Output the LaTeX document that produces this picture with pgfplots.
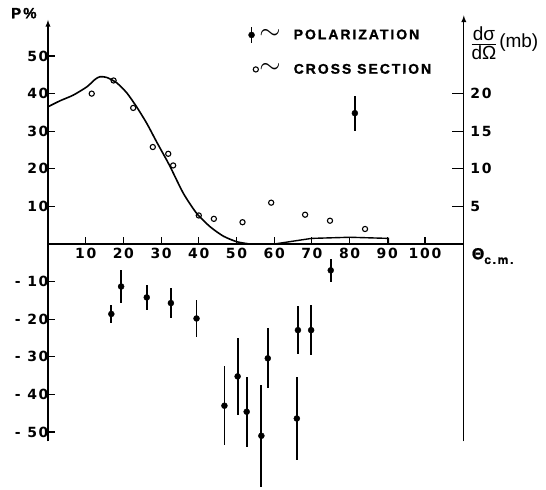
\documentclass[border=0pt]{standalone}
\usepackage{pgfplots}
\pgfplotsset{compat=1.18}
\usepackage{graphicx}
\usepackage{fontspec}
\setmainfont{Liberation Sans}[BoldFeatures={FakeBold=1.2}]
\newfontfamily\lett{DejaVu Sans}[LetterSpace=12]
\newfontfamily\legfont{Liberation Sans}[LetterSpace=14, BoldFeatures={FakeBold=1.2}]

% polarization (P %) with errors
\pgfplotstableread{
x     y      e
16.8  -18.6  2.5
19.4  -11.3  4.5
26.2  -14.2  3.3
32.6  -15.7  3.9
39.4  -19.8  5.0
46.8  -43.0  10.5
50.3  -35.2  10.2
52.7  -44.6  9.3
56.6  -51.0  13.5
58.3  -30.4  8.0
66.0  -46.4  11.0
66.3  -22.9  6.3
69.8  -22.9  6.7
75.0  -7.0   3.1
81.4  34.8   4.7
}\poltab

% cross section (mb)
\pgfplotstableread{
x     y
11.6  20.0
17.4  21.75
22.6  18.1
27.8  12.9
31.9  12.0
33.2  10.45
40.0  3.8
44.0  3.35
51.6  2.9
59.2  5.5
68.2  3.9
74.8  3.1
84.1  2.0
}\crosstab

% fitted curve (mb), smooth part
\pgfplotstableread{
x     y
0.0   18.25
3.2   19.05
6.7   19.8
10.3  20.9
12.5  21.9
13.8  22.25
15.6  22.15
18.2  21.45
20.9  20.1
23.5  18.25
26.2  16.05
28.8  13.6
31.5  11.15
32.4  10.3
35.9  6.75
39.4  4.1
43.0  2.3
46.5  1.05
50.1  0.3
53.5  0.0
}\curvetab

% fitted curve (mb), flat tail
\pgfplotstableread{
x     y
53.5  0.0
60.0  0.0
69.9  0.75
80.1  0.9
90.3  0.75
90.3  0.0
}\tailtab

\begin{document}
\begin{tikzpicture}
\begin{axis}[
    x=3.77pt, y=3.76pt,
    xmin=0, xmax=110.3, ymin=-52.5, ymax=59.6,
    axis lines=middle,
    clip=false,
    axis line style={line width=1.3pt},
    x axis line style={-},
    y axis line style={-latex},
    tick align=inside,
    major tick length=7pt,
    tick style={line width=1.1pt, black},
    xtick={10,20,...,100},
    ytick={-50,-40,-30,-20,-10,10,20,30,40,50},
    yticklabels={- 50,- 40,- 30,- 20,- 10,10,20,30,40,50},
    /pgf/number format/assume math mode=true,
    ticklabel style={font=\lett\bfseries\fontsize{14}{16}\selectfont},
    yticklabel style={xshift=4pt},
    xticklabel style={yshift=-1pt},
    legend style={at={(axis cs:52.3,58.5)}, anchor=north west, draw=none, fill=none,
        font=\legfont\bfseries\fontsize{14}{15}\selectfont, row sep=19pt,
        nodes={inner sep=1pt}},
    legend cell align=left,
]
\path (axis cs:-12.73,64.9) rectangle (axis cs:132.1,-64.6);

\addlegendimage{legend image code/.code={
    \draw[line width=1.4pt] (0.15cm,-8pt) -- (0.15cm,8pt);
    \fill (0.15cm,0pt) circle (3pt);}}
\addlegendentry{\scalebox{1.9}{$\sim$}\hspace{13pt}POLARIZATION}
\addlegendimage{only marks, mark=o, mark size=2.6pt, line width=1.1pt, black}
\addlegendentry{\scalebox{1.9}{$\sim$}\hspace{13pt}CROSS SECTION}

\addplot[only marks, mark=*, mark size=3pt, black, forget plot,
    error bars/.cd, y dir=both, y explicit, error mark=none,
    error bar style={line width=1.8pt, black, solid}]
    table[x=x, y=y, y error=e] {\poltab};

\node[font=\legfont\bfseries\fontsize{15}{16}\selectfont] at (axis cs:-6.4,61.4) {P\%};
\node[anchor=west, font=\bfseries\fontsize{12}{13}\selectfont] at (axis cs:111.5,-3.2)
    {\fontsize{16}{16}\selectfont Θ\raisebox{-0.55ex}{\legfont\fontsize{12}{12}\selectfont c.m.}};
\node[anchor=west, inner sep=0pt] at (axis cs:112.0,53.4)
    {$\displaystyle\frac{\mbox{\fontsize{19}{19}\selectfont dσ}}{\mbox{\fontsize{19}{19}\selectfont dΩ}}$\,{\fontsize{19}{20}\selectfont (mb)}};
\end{axis}

\begin{axis}[
    x=3.77pt, y=7.52pt,
    xmin=0, xmax=110.3, ymin=-26.25, ymax=30.4,
    axis x line=none,
    axis y line=right,
    clip=false,
    axis line style={line width=1.3pt, -latex},
    tick align=inside,
    major tick length=12pt,
    tick style={line width=1.1pt, black},
    ytick={5,10,15,20},
    /pgf/number format/assume math mode=true,
    ticklabel style={font=\lett\bfseries\fontsize{14}{16}\selectfont},
    yticklabel style={anchor=west, xshift=3pt},
]
\addplot[black, line width=1.6pt, smooth, tension=0.4] table[x=x, y=y] {\curvetab};
\addplot[black, line width=1.4pt] table[x=x, y=y] {\tailtab};
\addplot[only marks, mark=o, mark size=2.6pt, black, mark options={line width=1.1pt}]
    table[x=x, y=y] {\crosstab};
\end{axis}
\end{tikzpicture}
\end{document}
